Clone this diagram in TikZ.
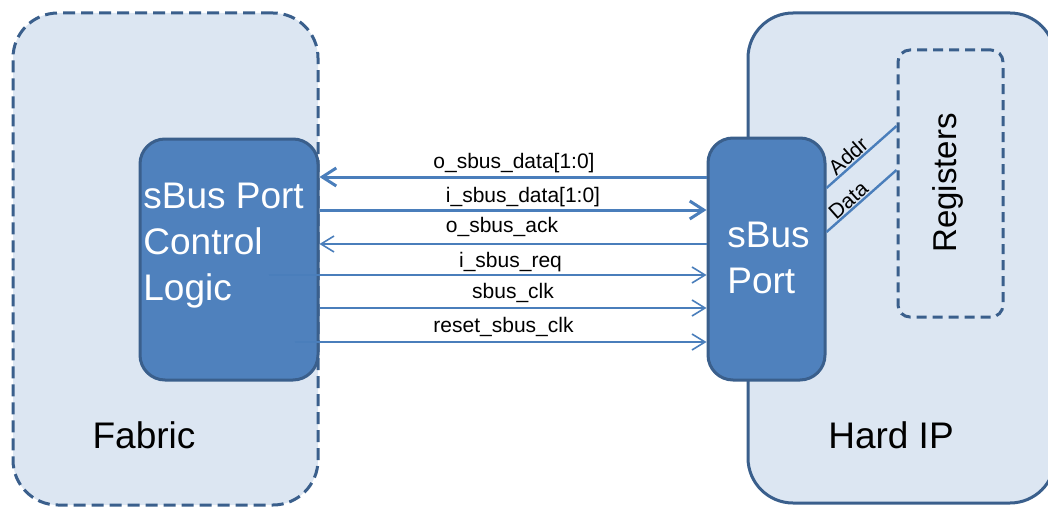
\documentclass[tikz,border=0pt]{standalone}
\usepackage{fontspec}
\setmainfont{Liberation Sans}
\usetikzlibrary{arrows.meta}
\definecolor{lightfill}{HTML}{DCE6F2}
\definecolor{borderblue}{HTML}{3A5F8C}
\definecolor{midblue}{HTML}{4F81BD}
\definecolor{wireblue}{HTML}{4A7EBB}
\tikzset{
  region/.style={draw=borderblue, fill=lightfill, line width=1.5pt, rounded corners=22.5pt, inner sep=0pt},
  dashregion/.style={region, dash pattern=on 6pt off 3pt},
  blockbox/.style={draw=borderblue, fill=midblue, line width=1.5pt, rounded corners=12.5pt, inner sep=0pt},
  regbox/.style={draw=borderblue, line width=1.5pt, dash pattern=on 5pt off 3pt, rounded corners=6pt, inner sep=0pt},
  bigtext/.style={font=\fontsize{18.5}{23}\selectfont, text=white, align=left, inner sep=0pt},
  regiontext/.style={font=\fontsize{18.5}{23}\selectfont, inner sep=0pt},
  sig/.style={font=\fontsize{10.5}{12}\selectfont, inner sep=0pt, anchor=base},
  thickwire/.style={draw=wireblue, line width=1.5pt, -{Straight Barb[length=7pt,width=9pt,line width=1.5pt]}},
  thinwire/.style={draw=wireblue, line width=0.8pt, -{Straight Barb[length=6.5pt,width=8pt,line width=0.8pt]}},
  busline/.style={draw=wireblue, line width=1.2pt},
  tag/.style={font=\fontsize{10.5}{12}\selectfont, inner sep=0.5pt}
}
\begin{document}
\begin{tikzpicture}[x=0.5pt, y=-0.5pt]
\useasboundingbox (0,0) rectangle (1048,508);
\clip (0,0) rectangle (1048,508);
% regions
\node[dashregion, minimum width=152.5pt, minimum height=246pt] (fabric) at (165.5,259) {};
\node[region, minimum width=153.5pt, minimum height=245pt] (hardip) at (901.5,258) {};
\node[regiontext, anchor=base] (fabrictext) at (144,448) {Fabric};
\node[regiontext, anchor=base] (hardiptext) at (891,448) {Hard IP};
% blocks
\node[blockbox, minimum width=89pt, minimum height=120.5pt] (ctrl) at (229,259.5) {};
\node[blockbox, minimum width=58.5pt, minimum height=121pt] (port) at (766.5,259) {};
\node[regbox, minimum width=52.5pt, minimum height=133.5pt] (regs) at (950.5,183.5) {};
\node[bigtext, anchor=north west] (ctrltext) at (143,183) {sBus Port\\Control\\Logic};
\node[bigtext, anchor=north west] (porttext) at (727,221.5) {sBus\\Port};
\node[font=\fontsize{16.5}{20}\selectfont, rotate=90, inner sep=0pt] (regtext) at (948,183) {Registers};
% signals
\draw[thickwire] (port.west |- 0,177) -- (ctrl.east |- 0,177)
  node[sig, midway, yshift=4.5pt, xshift=0.5pt] {o\_sbus\_data[1:0]};
\draw[thickwire] (ctrl.east |- 0,210) -- (port.west |- 0,210)
  node[sig, midway, yshift=4pt, xshift=5pt] {i\_sbus\_data[1:0]};
\draw[thinwire] (port.west |- 0,244) -- (ctrl.east |- 0,244)
  node[sig, midway, yshift=6pt, xshift=-5.5pt] {o\_sbus\_ack};
\draw[thinwire] (ctrl.east |- 0,275) ++(-51,0) -- (port.west |- 0,275)
  node[sig, pos=0.5, yshift=4pt, xshift=11.5pt] {i\_sbus\_req};
\draw[thinwire] (ctrl.east |- 0,308) -- (port.west |- 0,308)
  node[sig, midway, yshift=5pt, xshift=0pt] {sbus\_clk};
\draw[thinwire] (ctrl.east |- 0,342) ++(-25,0) -- (port.west |- 0,342)
  node[sig, pos=0.5, yshift=5pt, xshift=1.5pt] {reset\_sbus\_clk};
% register bus
\draw[busline] (port.east |- 0,188) -- (regs.west |- 0,126)
  node[tag, pos=0.4, above, sloped] {Addr};
\draw[busline] (port.east |- 0,232) -- (regs.west |- 0,170)
  node[tag, pos=0.4, above, sloped] {Data};
\end{tikzpicture}
\end{document}
